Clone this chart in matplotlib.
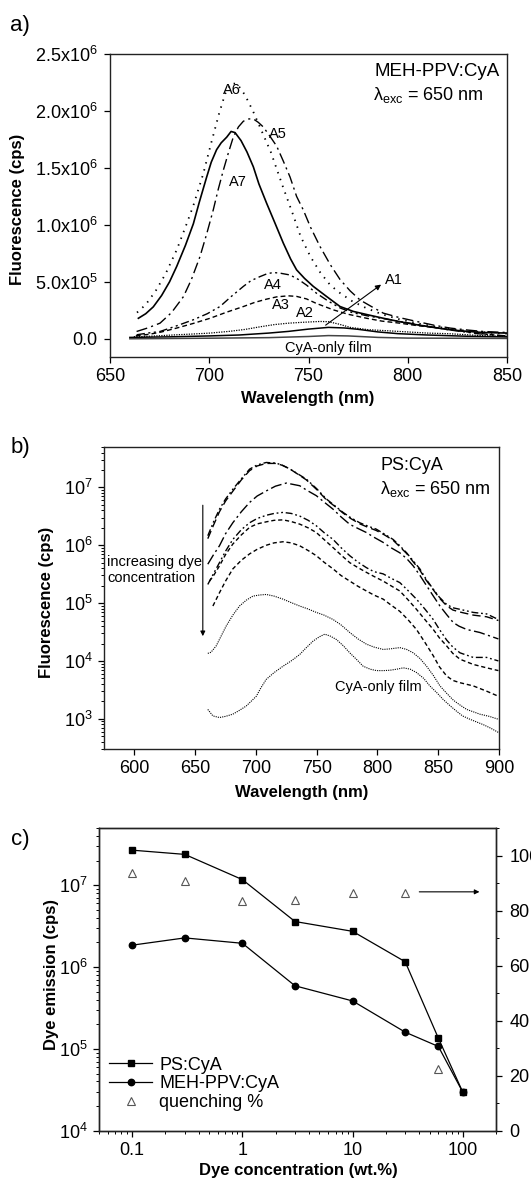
import matplotlib
matplotlib.use('Agg')
import matplotlib.pyplot as plt
from matplotlib.ticker import FixedLocator, MultipleLocator, LogLocator, NullFormatter

plt.rcParams['font.family'] = ['Liberation Sans', 'DejaVu Sans']
plt.rcParams['mathtext.fontset'] = 'custom'
plt.rcParams['mathtext.rm'] = 'Liberation Sans'
plt.rcParams['mathtext.it'] = 'Liberation Sans:italic'
plt.rcParams['mathtext.bf'] = 'Liberation Sans:bold'

# ---------------- panel a: MEH-PPV:CyA spectra (linear) ----------------
a6_wl = [663.6, 668, 673, 678, 683.6, 688, 692, 697, 701, 705, 708, 711, 714, 718, 722, 727, 731, 737,
         742, 746, 751, 756, 761, 766, 772, 779, 787, 796, 805, 813, 822, 830, 840, 850]
a6_val = [2.3e5, 3.0e5, 4.2e5, 5.7e5, 7.8e5, 9.8e5, 1.17e6, 1.45e6, 1.72e6, 1.98e6, 2.15e6, 2.24e6, 2.24e6,
          2.14e6, 2.0e6, 1.8e6, 1.64e6, 1.34e6, 1.1e6, 9.0e5, 7.2e5, 5.8e5, 4.7e5, 4.0e5, 3.3e5, 2.7e5,
          2.15e5, 1.7e5, 1.35e5, 1.1e5, 8.5e4, 7.0e4, 5.5e4, 4.5e4]
a7_wl = [664.3, 668, 671.8, 676, 680, 683.6, 688, 692, 695, 698.7, 701, 703.7, 706, 708.8, 711, 713, 716,
         719, 722.2, 725, 728.9, 733, 737.3, 741, 744, 748, 752.4, 759.2, 765.9, 772.6, 780, 787.7, 796,
         804.5, 813, 821.3, 830, 838, 850]
a7_val = [1.8e5, 2.2e5, 2.8e5, 3.8e5, 5.0e5, 6.35e5, 8.2e5, 1.01e6, 1.2e6, 1.42e6, 1.55e6, 1.66e6, 1.72e6,
          1.77e6, 1.82e6, 1.81e6, 1.74e6, 1.64e6, 1.51e6, 1.36e6, 1.19e6, 1.02e6, 8.4e5, 7.0e5, 6.05e5,
          5.3e5, 4.6e5, 3.7e5, 2.83e5, 2.4e5, 2.1e5, 1.8e5, 1.5e5, 1.23e5, 1.0e5, 7.9e4, 6.5e4, 5.5e4, 5.0e4]
a5_wl = [663.4, 669, 675.2, 681, 687, 691, 695.3, 698.7, 702, 704.5, 707.1, 709.6, 712.1, 714.7, 717.2, 720,
         722.2, 724.7, 727.2, 730.5, 734, 737.3, 740.7, 744, 747.4, 751, 755.8, 761, 765.9, 771, 776, 782,
         787.7, 796, 804.5, 813, 821.3, 830, 838, 850]
a5_val = [6.4e4, 9.5e4, 1.37e5, 2.3e5, 3.7e5, 5.2e5, 7.2e5, 9.2e5, 1.13e6, 1.31e6, 1.48e6, 1.63e6, 1.77e6,
          1.86e6, 1.91e6, 1.93e6, 1.93e6, 1.9e6, 1.86e6, 1.78e6, 1.69e6, 1.56e6, 1.42e6, 1.25e6, 1.13e6,
          9.8e5, 8.1e5, 6.5e5, 5.2e5, 4.2e5, 3.4e5, 2.8e5, 2.25e5, 1.85e5, 1.52e5, 1.2e5, 9.4e4, 7.7e4,
          6.4e4, 5.5e4]
a4_wl = [663.4, 669, 675.2, 683, 692, 699, 705.4, 711, 717.2, 721, 725.6, 729, 732.3, 736, 740.7, 745,
         749.1, 754, 760, 766, 772, 780, 790, 800, 810, 820, 835, 850]
a4_val = [3.5e4, 5.0e4, 6.4e4, 1.1e5, 1.67e5, 2.2e5, 2.83e5, 3.7e5, 4.6e5, 5.1e5, 5.46e5, 5.7e5, 5.82e5,
          5.75e5, 5.6e5, 5.2e5, 4.7e5, 4.0e5, 3.3e5, 2.7e5, 2.3e5, 2.0e5, 1.7e5, 1.4e5, 1.1e5, 8.0e4,
          4.5e4, 2.5e4]
a3_wl = [663, 670, 676, 683.6, 692, 700.4, 709, 717.2, 723, 728.9, 734, 739.8, 744, 749, 754, 762.5, 770,
         779.3, 787, 796, 805, 816, 825, 834.7, 850]
a3_val = [2.6e4, 4.0e4, 6.0e4, 9.4e4, 1.35e5, 1.8e5, 2.35e5, 2.83e5, 3.2e5, 3.48e5, 3.68e5, 3.77e5,
          3.72e5, 3.5e5, 3.1e5, 2.54e5, 2.15e5, 1.8e5, 1.55e5, 1.37e5, 1.15e5, 9.4e4, 7.2e4, 5.0e4, 2.0e4]
a2_wl = [662, 670, 683.6, 692, 700.4, 710, 718, 725.6, 733, 740, 747.4, 755.8, 760, 765, 771, 780, 796,
         810, 821.3, 835, 850]
a2_val = [1.8e4, 2.2e4, 3.5e4, 4.2e4, 5.0e4, 6.5e4, 8.2e4, 1.05e5, 1.25e5, 1.37e5, 1.45e5, 1.52e5, 1.5e5,
          1.3e5, 1.0e5, 8.0e4, 6.4e4, 5.0e4, 4.4e4, 3.0e4, 2.0e4]
a1_wl = [660, 680, 700, 715, 730, 740, 750, 760, 768, 775, 785, 795, 810, 830, 850]
a1_val = [1.2e4, 1.7e4, 2.5e4, 3.3e4, 5.0e4, 6.5e4, 8.5e4, 1.0e5, 9.5e4, 8.3e4, 6.0e4, 4.5e4, 3.3e4,
          2.2e4, 1.6e4]
cya_a_wl = [660, 700, 730, 750, 760, 770, 785, 800, 850]
cya_a_val = [0.0, 5e3, 1.0e4, 2.0e4, 2.8e4, 2.5e4, 1.2e4, 6e3, 3e3]
a_yticks = [0, 5e5, 1e6, 1.5e6, 2e6, 2.5e6]
a_yticklabels = ['0.0', '5.0x10$^5$', '1.0x10$^6$', '1.5x10$^6$', '2.0x10$^6$', '2.5x10$^6$']

# ---------------- panel b: PS:CyA spectra (log) ----------------
b1_wl = [660.4, 665, 670, 675, 681, 688, 694.8, 701, 708.5, 716.8, 722, 727.7, 734, 741.5, 750, 758, 765,
         771.7, 778, 785.4, 792, 799, 806, 812.9, 818, 824, 829, 834.9, 840, 845.9, 851, 856.9, 862,
         867.9, 878.8, 889.8, 899.5]
b1_val = [1.46e6, 2.5e6, 4.2e6, 6.3e6, 9.3e6, 1.41e7, 2.07e7, 2.45e7, 2.7e7, 2.63e7, 2.4e7, 2.1e7, 1.74e7,
          1.39e7, 9.5e6, 6.3e6, 4.8e6, 3.7e6, 3.0e6, 2.45e6, 2.15e6, 1.9e6, 1.55e6, 1.26e6, 1.0e6, 7.4e5,
          5.5e5, 3.9e5, 2.6e5, 1.74e5, 1.26e5, 9.5e4, 8.3e4, 7.8e4, 6.9e4, 6.5e4, 5.2e4]
b2_wl = b1_wl
b2_val = [1.3e6, 2.2e6, 3.8e6, 5.8e6, 8.6e6, 1.35e7, 1.95e7, 2.35e7, 2.6e7, 2.6e7, 2.4e7, 2.1e7, 1.72e7,
          1.35e7, 9.2e6, 6.1e6, 4.7e6, 3.6e6, 2.9e6, 2.35e6, 2.05e6, 1.8e6, 1.5e6, 1.22e6, 9.6e5, 7.2e5,
          5.3e5, 3.7e5, 2.5e5, 1.7e5, 1.22e5, 9.0e4, 7.6e4, 7.0e4, 6.2e4, 5.8e4, 5.0e4]
b3_wl = [660.4, 665, 670, 675, 681, 688, 694.8, 701, 708.5, 716, 725, 736, 742, 749.7, 756, 763.5, 770,
         777.2, 784, 790.9, 797, 804.7, 811, 818.4, 824, 829.4, 835, 840.4, 846, 851.4, 857, 862.4, 867,
         873.4, 884.3, 899.5]
b3_val = [4.7e5, 6.8e5, 9.8e5, 1.58e6, 2.45e6, 3.8e6, 5.5e6, 7.1e6, 8.7e6, 1.05e7, 1.19e7, 1.07e7, 8.9e6,
          7.2e6, 5.6e6, 4.2e6, 3.1e6, 2.3e6, 1.95e6, 1.66e6, 1.38e6, 1.12e6, 9.1e5, 7.4e5, 5.9e5, 4.4e5,
          3.0e5, 2.0e5, 1.32e5, 8.9e4, 6.3e4, 4.6e4, 4.0e4, 3.5e4, 3.1e4, 2.4e4]
b4_wl = [660.4, 665, 670, 675, 681, 688, 694.8, 701, 708.5, 715, 722.3, 729, 736, 743, 749.7, 756, 763.5,
         770, 777.2, 784, 790.9, 797, 804.7, 811, 818.4, 825, 832.1, 839, 845.9, 851, 856.9, 862, 867.9,
         878.8, 889.8, 899.5]
b4_val = [2.1e5, 3.2e5, 5.0e5, 7.9e5, 1.26e6, 1.86e6, 2.45e6, 2.9e6, 3.3e6, 3.55e6, 3.7e6, 3.55e6, 3.2e6,
          2.7e6, 2.17e6, 1.66e6, 1.26e6, 9.1e5, 6.6e5, 5.1e5, 4.1e5, 3.5e5, 3.2e5, 2.7e5, 2.26e5, 1.66e5,
          1.17e5, 7.9e4, 5.2e4, 3.5e4, 2.3e4, 1.74e4, 1.38e4, 1.15e4, 1.15e4, 1.0e4]
b5_wl = [661.8, 665, 670, 675, 681, 688, 694.8, 701, 708.5, 715, 722.3, 729, 736, 743, 749.7, 756, 763.5,
         770, 777.2, 784, 790.9, 797, 804.7, 811, 818.4, 825, 832.1, 839, 845.9, 851, 856.9, 862, 867.9,
         878.8, 889.8, 899.5]
b5_val = [2.4e5, 2.95e5, 4.4e5, 6.9e5, 1.05e6, 1.51e6, 2.04e6, 2.34e6, 2.54e6, 2.7e6, 2.75e6, 2.57e6,
          2.32e6, 2.0e6, 1.66e6, 1.26e6, 9.1e5, 6.8e5, 5.0e5, 4.1e5, 3.4e5, 2.9e5, 2.4e5, 2.0e5, 1.62e5,
          1.15e5, 7.8e4, 5.2e4, 3.5e4, 2.5e4, 1.82e4, 1.35e4, 1.07e4, 8.7e3, 7.6e3, 6.8e3]
b6_wl = [664.6, 670, 675, 681, 688, 694.8, 701, 708.5, 715, 722.3, 729, 736, 743, 749.7, 756, 763.5, 770,
         777.2, 784, 790.9, 797, 804.7, 811, 818.4, 825, 832.1, 839, 845.9, 851, 856.9, 862, 867.9, 878.8,
         889.8, 899.5]
b6_val = [8.9e4, 1.51e5, 2.4e5, 3.9e5, 5.5e5, 7.1e5, 8.5e5, 1.0e6, 1.1e6, 1.15e6, 1.1e6, 9.8e5, 8.1e5,
          6.6e5, 5.1e5, 3.9e5, 3.0e5, 2.4e5, 1.95e5, 1.62e5, 1.38e5, 1.17e5, 9.3e4, 7.2e4, 5.2e4, 3.5e4,
          2.1e4, 1.23e4, 7.9e3, 5.5e3, 4.6e3, 4.2e3, 3.7e3, 3.0e3, 2.45e3]
b7_wl = [660.4, 663, 667.3, 671, 675.5, 681, 686.5, 692, 697.5, 703, 708.5, 715, 722.3, 729, 736, 743,
         749.7, 756, 763.5, 770, 777.2, 784, 790.9, 797, 804.7, 811, 818.4, 824, 829.4, 835, 840.4, 846,
         851.4, 857, 862.4, 867, 873.4, 884.3, 892, 899.5]
b7_val = [1.35e4, 1.41e4, 1.82e4, 2.6e4, 4.0e4, 6.2e4, 8.9e4, 1.12e5, 1.32e5, 1.38e5, 1.41e5, 1.32e5,
          1.17e5, 1.02e5, 8.9e4, 7.9e4, 6.9e4, 6.2e4, 5.2e4, 4.2e4, 3.1e4, 2.4e4, 1.95e4, 1.74e4, 1.58e4,
          1.62e4, 1.7e4, 1.58e4, 1.38e4, 1.1e4, 8.1e3, 5.6e3, 3.7e3, 2.75e3, 2.1e3, 1.78e3, 1.45e3,
          1.2e3, 1.1e3, 9.8e2]
b8_wl = [660.4, 664.6, 670, 675, 681, 686, 692, 696, 700.3, 704, 708.5, 715, 722.3, 729, 736, 741, 747,
         752, 756.6, 761, 766.2, 772, 777.2, 783, 788.2, 794, 799.2, 805, 810.2, 816, 821.2, 827, 832.1,
         838, 843.1, 849, 854.1, 860, 865.1, 870, 876.1, 881, 887.1, 893, 899.5]
b8_val = [1.45e3, 1.12e3, 1.05e3, 1.1e3, 1.2e3, 1.38e3, 1.66e3, 2.0e3, 2.45e3, 3.4e3, 4.8e3, 6.3e3,
          8.1e3, 1.0e4, 1.29e4, 1.66e4, 2.2e4, 2.6e4, 2.9e4, 2.7e4, 2.35e4, 1.82e4, 1.38e4, 1.05e4,
          8.1e3, 7.2e3, 6.8e3, 6.8e3, 6.9e3, 7.2e3, 7.6e3, 7.2e3, 6.3e3, 5.0e3, 3.7e3, 2.8e3, 2.15e3,
          1.66e3, 1.35e3, 1.12e3, 9.8e2, 8.9e2, 7.9e2, 6.9e2, 5.8e2]

# ---------------- panel c: dye emission vs concentration ----------------
conc = [0.1, 0.3, 1, 3, 10, 30, 60, 100]
ps_emission = [2.68e7, 2.38e7, 1.17e7, 3.6e6, 2.73e6, 1.16e6, 1.35e5, 2.95e4]
meh_emission = [1.85e6, 2.27e6, 1.95e6, 5.9e5, 3.85e5, 1.6e5, 1.07e5, 2.95e4]
quench_conc = [0.1, 0.3, 1, 3, 10, 30, 60]
quench_pct = [93.6, 90.8, 83.6, 84.0, 86.3, 86.5, 22.4]
c_xticks = [0.1, 1, 10, 100]
c_xticklabels = ['0.1', '1', '10', '100']

TICK = 13
LAB = 12
NOTE = 10.5

fig = plt.figure(figsize=(5.31, 11.8), dpi=100)
W, H = 531.0, 1180.0


def add_axes(l, r, t, b):
    return fig.add_axes([l / W, 1 - b / H, (r - l) / W, (b - t) / H])


def style(ax):
    for s in ax.spines.values():
        s.set_linewidth(1.0)
        s.set_color('#222222')
    ax.tick_params(which='major', direction='out', length=4.5, width=0.9, labelsize=TICK, pad=3.5)
    ax.tick_params(which='minor', direction='out', length=2.5, width=0.7)


# ---- a ----
ax = add_axes(110, 507, 54, 357)
style(ax)
ax.plot(a6_wl, a6_val, color='k', lw=1.3, dashes=(0.8, 3.2))
ax.plot(a5_wl, a5_val, color='k', lw=1.0, dashes=(8, 3, 1.5, 3))
ax.plot(a7_wl, a7_val, color='k', lw=1.2)
ax.plot(a4_wl, a4_val, color='k', lw=1.0, dashes=(6, 2.5, 1.5, 2.5, 1.5, 2.5))
ax.plot(a3_wl, a3_val, color='k', lw=1.0, dashes=(3.5, 2.2))
ax.plot(a2_wl, a2_val, color='k', lw=0.9, dashes=(1, 1))
ax.plot(a1_wl, a1_val, color='k', lw=1.1)
ax.plot(cya_a_wl, cya_a_val, color='#444444', lw=1.1)
ax.set_xlim(650, 850)
ax.set_ylim(-1.6e5, 2.5e6)
ax.xaxis.set_major_locator(MultipleLocator(50))
ax.yaxis.set_major_locator(FixedLocator(a_yticks))
ax.set_yticklabels(a_yticklabels)
ax.tick_params(axis='y', pad=4.5)
ax.text(711.3, 2.18e6, 'A6', fontsize=NOTE, ha='center', va='center')
ax.text(734.8, 1.8e6, 'A5', fontsize=NOTE, ha='center', va='center')
ax.text(714.6, 1.38e6, 'A7', fontsize=NOTE, ha='center', va='center')
ax.text(732.3, 4.7e5, 'A4', fontsize=NOTE, ha='center', va='center')
ax.text(736.0, 3.0e5, 'A3', fontsize=NOTE, ha='center', va='center')
ax.text(748.2, 2.25e5, 'A2', fontsize=NOTE, ha='center', va='center')
ax.text(760.0, -8.2e4, 'CyA-only film', fontsize=NOTE, ha='center', va='center')
ax.annotate('', xy=(787.7, 4.9e5), xytext=(757.5, 1.05e5),
            arrowprops=dict(arrowstyle='-|>', color='k', lw=0.8, mutation_scale=8))
ax.text(788.5, 5.2e5, 'A1', fontsize=NOTE, ha='left', va='center')
ax.text(0.6675, 0.9416, 'MEH-PPV:CyA', transform=ax.transAxes, fontsize=13.5, va='center')
ax.text(0.6625, 0.865, r'λ$_{\mathrm{exc}}$ = 650 nm', transform=ax.transAxes, fontsize=13, va='center')

# ---- b ----
ax = add_axes(104, 499, 447, 749)
style(ax)
ax.set_yscale('log')
ax.plot(b1_wl, b1_val, color='k', lw=1.0, dashes=(5, 2, 1.3, 2, 1.3, 2))
ax.plot(b2_wl, b2_val, color='k', lw=1.0, dashes=(6, 3))
ax.plot(b3_wl, b3_val, color='k', lw=1.0, dashes=(8, 2.5, 1.5, 2.5))
ax.plot(b4_wl, b4_val, color='k', lw=1.0, dashes=(5, 2, 1.3, 2, 1.3, 2))
ax.plot(b5_wl, b5_val, color='k', lw=1.0, dashes=(3, 2))
ax.plot(b6_wl, b6_val, color='k', lw=1.0, dashes=(3, 2))
ax.plot(b7_wl, b7_val, color='k', lw=0.8, dashes=(1, 1))
ax.plot(b8_wl, b8_val, color='k', lw=0.8, dashes=(1, 1))
ax.set_xlim(575, 900)
ax.set_ylim(3e2, 5e7)
ax.xaxis.set_major_locator(MultipleLocator(50))
ax.yaxis.set_major_locator(LogLocator(base=10, numticks=10))
ax.yaxis.set_minor_locator(LogLocator(base=10, subs=range(2, 10), numticks=20))
ax.yaxis.set_minor_formatter(NullFormatter())
ax.annotate('', xy=(656.3, 2.4e4), xytext=(656.3, 5.5e6),
            arrowprops=dict(arrowstyle='-|>', color='k', lw=0.8, mutation_scale=7))
ax.text(577.7, 3.7e5, 'increasing dye\nconcentration', fontsize=NOTE, ha='left', va='center',
        linespacing=1.2)
ax.text(800.8, 3.5e3, 'CyA-only film', fontsize=NOTE, ha='center', va='center')
ax.text(0.699, 0.938, 'PS:CyA', transform=ax.transAxes, fontsize=13, va='center')
ax.text(0.699, 0.860, r'λ$_{\mathrm{exc}}$ = 650 nm', transform=ax.transAxes, fontsize=13, va='center')

# ---- c ----
ax = add_axes(99, 496, 828, 1130.7)
style(ax)
ax.set_xscale('log')
ax.set_yscale('log')
l1, = ax.plot(conc, ps_emission, color='k', lw=0.9, marker='s', ms=4.2, label='PS:CyA')
l2, = ax.plot(conc, meh_emission, color='k', lw=0.9, marker='o', ms=4.6, label='MEH-PPV:CyA')
ax.set_xlim(0.05, 200)
ax.set_ylim(1e4, 5e7)
ax.xaxis.set_major_locator(FixedLocator(c_xticks))
ax.set_xticklabels(c_xticklabels)
ax.xaxis.set_minor_locator(LogLocator(base=10, subs=range(2, 10), numticks=20))
ax.xaxis.set_minor_formatter(NullFormatter())
ax.yaxis.set_major_locator(LogLocator(base=10, numticks=10))
ax.yaxis.set_minor_locator(LogLocator(base=10, subs=range(2, 10), numticks=20))
ax.yaxis.set_minor_formatter(NullFormatter())
ax2 = ax.twinx()
style(ax2)
l3, = ax2.plot(quench_conc, quench_pct, ls='none', marker='^', ms=5.5, mfc='none', mec='#555555',
               mew=0.8, label='quenching %')
ax2.set_ylim(0, 110)
ax2.yaxis.set_major_locator(MultipleLocator(20))
ax2.yaxis.set_minor_locator(MultipleLocator(10))
ax2.tick_params(axis='y', pad=5)
ax2.annotate('', xy=(150, 86.8), xytext=(38, 86.8),
             arrowprops=dict(arrowstyle='-|>', color='k', lw=0.8, mutation_scale=7))
ax2.legend(handles=[l1, l2, l3], loc='upper left', bbox_to_anchor=(0.025, 0.245), frameon=False,
           fontsize=13, borderpad=0, borderaxespad=0, handlelength=2.4, handletextpad=0.4,
           labelspacing=0.1, numpoints=1)

# ---- labels ----
fig.text(18 / W, 1 - 209 / H, 'Fluorescence (cps)', rotation=90, ha='center', va='center',
         fontsize=LAB, fontweight='bold')
fig.text(308 / W, 1 - 398 / H, 'Wavelength (nm)', ha='center', va='center', fontsize=LAB, fontweight='bold')
fig.text(47 / W, 1 - 602 / H, 'Fluorescence (cps)', rotation=90, ha='center', va='center',
         fontsize=LAB, fontweight='bold')
fig.text(302 / W, 1 - 793 / H, 'Wavelength (nm)', ha='center', va='center', fontsize=LAB, fontweight='bold')
fig.text(52 / W, 1 - 975 / H, 'Dye emission (cps)', rotation=90, ha='center', va='center',
         fontsize=LAB, fontweight='bold')
fig.text(298 / W, 1 - 1171 / H, 'Dye concentration (wt.%)', ha='center', va='center', fontsize=LAB,
         fontweight='bold')
fig.text(20 / W, 1 - 25 / H, 'a)', ha='center', va='center', fontsize=16)
fig.text(20 / W, 1 - 448 / H, 'b)', ha='center', va='center', fontsize=16)
fig.text(20 / W, 1 - 840 / H, 'c)', ha='center', va='center', fontsize=16)

fig.savefig('out.png', dpi=100)
